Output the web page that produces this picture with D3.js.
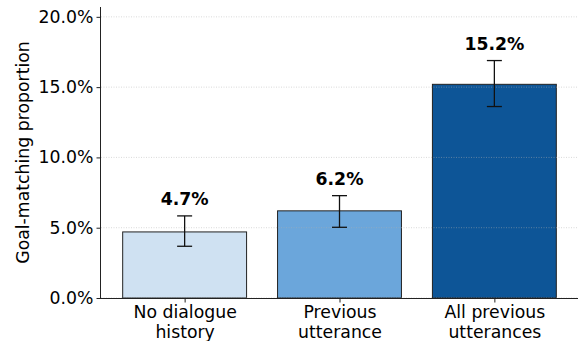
<!DOCTYPE html>
<html>
<head>
<meta charset="utf-8">
<script src="https://cdn.jsdelivr.net/npm/d3@7"></script>
<style>
  html, body { margin: 0; padding: 0; background: #fff; }
  svg { display: block; font-family: "DejaVu Sans", sans-serif; }
</style>
</head>
<body>
<svg id="chart" width="578" height="341"></svg>
<script>
const categories = [["No dialogue", "history"], ["Previous", "utterance"], ["All previous", "utterances"]];
const values = [4.7, 6.2, 15.2];
const errLow = [3.68, 5.03, 13.62];
const errHigh = [5.84, 7.28, 16.89];
const valueLabels = ["4.7%", "6.2%", "15.2%"];
const colors = ["#cfe1f2", "#6ba6db", "#0d5597"];
const yTicks = [0, 5, 10, 15, 20];
const yTickLabels = ["0.0%", "5.0%", "10.0%", "15.0%", "20.0%"];
const yLabel = "Goal-matching proportion";

const svg = d3.select("#chart");
const W = 578, H = 341;
const m = { left: 101, right: 0, top: 7, bottom: 43 };
const x0 = m.left, x1 = W - m.right, yTop = m.top, yBot = H - m.bottom;
const FONT = "DejaVu Sans";

// matplotlib-like continuous x: bars at 0,1,2 width 0.8, xlim -0.54..2.54
const x = d3.scaleLinear().domain([-0.54, 2.54]).range([x0, x1]);
const y = d3.scaleLinear().domain([0, 20.7]).range([yBot, yTop]);
const fs = 17.3;

// bars
const idx = d3.range(values.length);
svg.append("g").selectAll("rect").data(idx).join("rect")
  .attr("x", i => x(i - 0.4))
  .attr("width", i => x(i + 0.4) - x(i - 0.4))
  .attr("y", i => y(values[i]))
  .attr("height", i => y(0) - y(values[i]))
  .attr("fill", i => colors[i])
  .attr("stroke", "#222")
  .attr("stroke-width", 1);

// grid (dotted, on top)
svg.append("g").selectAll("line").data(yTicks).join("line")
  .attr("x1", x0).attr("x2", x1)
  .attr("y1", d => y(d)).attr("y2", d => y(d))
  .attr("stroke", "#b0b0b0")
  .attr("stroke-opacity", 0.6)
  .attr("stroke-width", 0.8)
  .attr("stroke-dasharray", "1,1.5");

// error bars
const eg = svg.append("g").attr("stroke", "#111").attr("stroke-width", 1.3);
idx.forEach(i => {
  const cx = x(i);
  eg.append("line").attr("x1", cx).attr("x2", cx).attr("y1", y(errLow[i])).attr("y2", y(errHigh[i]));
  eg.append("line").attr("x1", cx - 7.5).attr("x2", cx + 7.5).attr("y1", y(errLow[i])).attr("y2", y(errLow[i]));
  eg.append("line").attr("x1", cx - 7.5).attr("x2", cx + 7.5).attr("y1", y(errHigh[i])).attr("y2", y(errHigh[i]));
});

// value labels
svg.append("g").selectAll("text").data(idx).join("text")
  .attr("x", i => x(i))
  .attr("y", i => y(errHigh[i] + 0.5) - 3.8)
  .attr("text-anchor", "middle")
  .attr("font-family", FONT)
  .attr("font-weight", "bold")
  .attr("font-size", fs)
  .attr("fill", "#000")
  .text(i => valueLabels[i]);

// y axis
const yAxis = d3.axisLeft(y).tickValues(yTicks).tickFormat((d, i) => yTickLabels[i]).tickSize(4.5).tickPadding(3);
const gy = svg.append("g").attr("transform", `translate(${x0},0)`).call(yAxis);
gy.attr("font-family", FONT).attr("font-size", fs);
gy.select(".domain").attr("stroke", "#222").attr("stroke-width", 1).attr("d", `M-0.5,${yTop}V${yBot}`);
gy.selectAll(".tick line").attr("stroke", "#222").attr("stroke-width", 1);
gy.selectAll(".tick text").attr("fill", "#000");

// x axis
const xAxis = d3.axisBottom(x).tickValues(idx).tickFormat("").tickSize(4.5);
const gx = svg.append("g").attr("transform", `translate(0,${yBot})`).call(xAxis);
gx.attr("font-family", FONT).attr("font-size", fs);
gx.select(".domain").attr("stroke", "#222").attr("stroke-width", 1).attr("d", `M${x0},0.5H${x1}`);
gx.selectAll(".tick line").attr("stroke", "#222").attr("stroke-width", 1);
gx.selectAll(".tick").append("text")
  .attr("text-anchor", "middle")
  .attr("fill", "#000")
  .selectAll("tspan").data(i => categories[i]).join("tspan")
  .attr("x", 0)
  .attr("y", (d, j) => 20 + j * 20)
  .text(d => d);

// y label
svg.append("text")
  .attr("transform", `translate(29,${(yTop + yBot) / 2}) rotate(-90)`)
  .attr("text-anchor", "middle")
  .attr("font-family", FONT)
  .attr("font-size", fs)
  .attr("fill", "#000")
  .text(yLabel);
</script>
</body>
</html>
